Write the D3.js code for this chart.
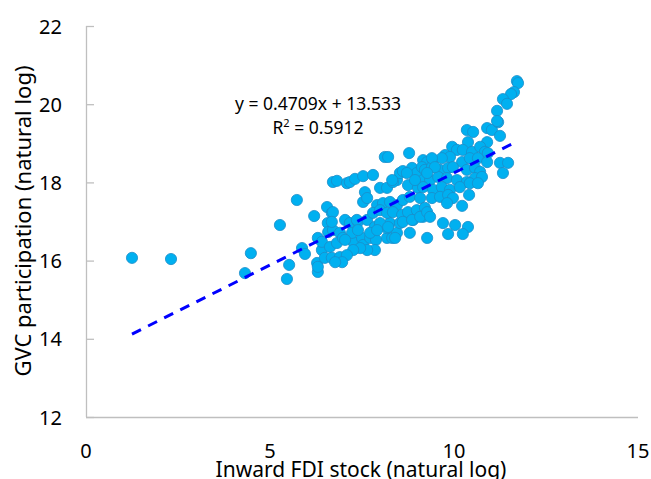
<!DOCTYPE html>
<html>
<head>
<meta charset="utf-8">
<script src="https://cdn.jsdelivr.net/npm/d3@7"></script>
<style>
  html, body { margin: 0; padding: 0; background: #fff; }
  svg { display: block; }
  text { font-family: "Noto Sans", "Open Sans", sans-serif; fill: #000; }
</style>
</head>
<body>
<svg id="chart" width="651" height="479"></svg>
<script>
// ---- data ----
const fdiLog = [
  1.25, 2.31, 4.48, 4.32, 5.52, 5.46, 5.27, 5.73, 5.87, 5.95,
  6.20, 6.55, 6.68, 6.57, 6.71, 6.82, 6.30, 6.41, 6.28, 6.30,
  6.49, 6.58, 6.71, 6.90, 7.04, 7.17, 7.39, 7.64, 7.85, 6.41,
  6.63, 6.82, 6.98, 7.26, 7.50, 7.53, 7.72, 7.88, 7.85, 7.64,
  7.45, 7.26, 6.68, 6.90, 7.09, 6.96, 6.77, 6.30, 8.18, 8.32,
  8.45, 8.80, 9.27, 8.26, 8.53, 8.89, 9.16, 8.18, 8.12, 8.21,
  8.78, 9.16, 9.27, 7.09, 7.17, 7.31, 7.53, 7.80, 8.45, 8.53,
  8.61, 8.86, 8.99, 9.13, 7.58, 7.53, 7.64, 7.99, 8.18, 8.34,
  8.75, 9.02, 9.16, 7.91, 8.07, 8.26, 8.45, 8.61, 8.80, 9.08,
  6.71, 6.68, 7.36, 7.80, 7.99, 8.18, 8.34, 8.59, 8.75, 8.99,
  9.21, 7.99, 8.21, 8.61, 8.86, 9.08, 7.23, 7.39, 7.72, 7.91,
  8.40, 7.04, 10.35, 10.52, 10.90, 11.03, 11.20, 11.25, 10.38, 10.90,
  9.95, 10.08, 10.24, 10.49, 10.71, 10.84, 10.92, 9.76, 9.89, 9.43,
  9.67, 10.22, 10.43, 10.65, 10.90, 11.25, 11.47, 11.33, 9.21, 9.40,
  9.62, 9.84, 9.97, 10.35, 10.57, 10.71, 9.35, 9.57, 9.81, 10.08,
  10.35, 10.57, 10.76, 9.16, 9.43, 9.67, 9.89, 10.16, 10.43, 10.65,
  9.40, 9.62, 9.84, 9.97, 10.41, 9.27, 9.35, 9.81, 10.22, 9.70,
  10.03, 10.38, 9.84, 10.24, 11.71, 11.74, 11.63, 11.55, 11.33, 11.44,
  11.17, 11.17, 9.40, 9.48, 9.27, 8.72, 8.32, 8.94
];
const gvcLog = [
  16.07, 16.04, 16.19, 15.68, 15.89, 15.53, 16.91, 17.55, 16.32, 16.17,
  17.14, 17.37, 17.22, 16.96, 18.01, 18.04, 16.58, 16.27, 15.94, 15.71,
  16.07, 16.73, 16.78, 16.71, 17.04, 16.96, 16.99, 17.04, 16.86, 16.48,
  16.35, 16.45, 16.58, 16.48, 16.58, 16.40, 16.58, 16.53, 16.27, 16.27,
  16.32, 16.27, 16.07, 16.09, 16.14, 15.96, 15.96, 15.84, 16.58, 16.58,
  16.71, 16.71, 16.58, 16.96, 16.96, 17.04, 17.12, 16.83, 18.65, 18.65,
  18.75, 18.57, 18.52, 17.98, 18.01, 18.09, 18.16, 18.19, 18.06, 18.24,
  18.29, 18.37, 18.24, 18.39, 17.75, 17.50, 17.60, 17.86, 17.86, 18.01,
  17.93, 17.86, 18.06, 17.42, 17.47, 17.50, 17.42, 17.55, 17.63, 17.60,
  17.24, 16.99, 17.04, 17.22, 17.29, 17.22, 17.24, 17.17, 17.24, 17.29,
  17.35, 16.96, 16.86, 16.99, 17.04, 17.12, 16.71, 16.78, 16.71, 16.78,
  16.58, 16.53, 19.34, 19.29, 19.39, 19.34, 19.54, 19.19, 19.03, 19.03,
  18.91, 18.83, 18.83, 18.78, 18.91, 18.78, 18.75, 18.70, 18.65, 18.57,
  18.62, 18.52, 18.62, 18.62, 18.52, 18.50, 18.50, 18.24, 18.32, 18.39,
  18.32, 18.37, 18.39, 18.32, 18.37, 18.27, 18.06, 18.14, 18.11, 18.06,
  18.01, 18.11, 18.14, 17.88, 17.81, 17.88, 17.81, 17.88, 17.98, 17.98,
  17.60, 17.63, 17.68, 17.60, 17.68, 17.24, 17.12, 17.47, 17.40, 16.96,
  16.91, 16.86, 16.68, 16.68, 20.59, 20.54, 20.31, 20.26, 20.13, 20.01,
  19.83, 19.57, 18.62, 18.39, 18.24, 18.24, 18.06, 18.06
];
const xTicks = [0, 5, 10, 15];
const yTicks = [12, 14, 16, 18, 20, 22];
const trendSlope = 0.4709;
const trendIntercept = 13.533;
const rSquared = 0.5912;
const xTitle = "Inward FDI stock (natural log)";
const yTitle = "GVC participation (natural log)";

// ---- drawing ----
const svg = d3.select("#chart");
const x = d3.scaleLinear().domain([0, 15]).range([86, 638]);
const y = d3.scaleLinear().domain([12, 22]).range([417, 26]);

const axisColor = "#BFBFBF";

// y axis: line + inward ticks
const yAxis = d3.axisRight(y).tickValues(yTicks).tickSize(8).tickFormat("");
const yg = svg.append("g").attr("transform", `translate(${x(0)},0)`).call(yAxis);
yg.select(".domain").attr("stroke", axisColor).attr("stroke-width", 1.3).attr("d", `M0.5,${y(22)}V${y(12)}`);
yg.selectAll(".tick line").attr("stroke", axisColor).attr("stroke-width", 1.3);

// y labels
svg.append("g").selectAll("text").data(yTicks).join("text")
  .attr("x", 62).attr("y", d => y(d))
  .attr("text-anchor", "end").attr("dominant-baseline", "central")
  .style("font-size", "20px").text(d => d);

// x axis line
const xAxis = d3.axisBottom(x).tickValues(xTicks).tickSize(0).tickFormat("");
const xg = svg.append("g").attr("transform", `translate(0,${y(12)})`).call(xAxis);
xg.select(".domain").attr("stroke", axisColor).attr("stroke-width", 1.3).attr("d", `M${x(0)},0.5H${x(15)}`);

// x labels
svg.append("g").selectAll("text").data(xTicks).join("text")
  .attr("x", d => x(d)).attr("y", 458)
  .attr("text-anchor", "middle")
  .style("font-size", "20px").text(d => d);

// titles
svg.append("text").attr("x", 361).attr("y", 477).attr("text-anchor", "middle")
  .style("font-size", "21px").text(xTitle);
svg.append("text").attr("transform", "translate(31,221) rotate(-90)")
  .attr("text-anchor", "middle").style("font-size", "22px").text(yTitle);

// points
const pts = fdiLog.map((v, i) => ({ x: v, y: gvcLog[i] }));
svg.append("g").selectAll("circle").data(pts).join("circle")
  .attr("cx", d => x(d.x)).attr("cy", d => y(d.y)).attr("r", 5.6)
  .attr("fill", "#00B0F0").attr("stroke", "#1A8DC9").attr("stroke-width", 0.8);

// trend line
const xExt = d3.extent(fdiLog);
const line = d3.line().x(d => x(d)).y(d => y(trendSlope * d + trendIntercept));
svg.append("path").datum(xExt).attr("d", line)
  .attr("fill", "none").attr("stroke", "#0000FF").attr("stroke-width", 3)
  .attr("stroke-dasharray", "10,8");

// equation
svg.append("text").attr("x", 318).attr("y", 110).attr("text-anchor", "middle")
  .style("font-size", "17.5px").text(`y = ${trendSlope}x + ${trendIntercept}`);
const r2 = svg.append("text").attr("x", 318).attr("y", 134).attr("text-anchor", "middle")
  .style("font-size", "17.5px");
r2.append("tspan").text("R");
r2.append("tspan").attr("dy", -7).style("font-size", "11px").text("2");
r2.append("tspan").attr("dy", 7).text(` = ${rSquared}`);
</script>
</body>
</html>
